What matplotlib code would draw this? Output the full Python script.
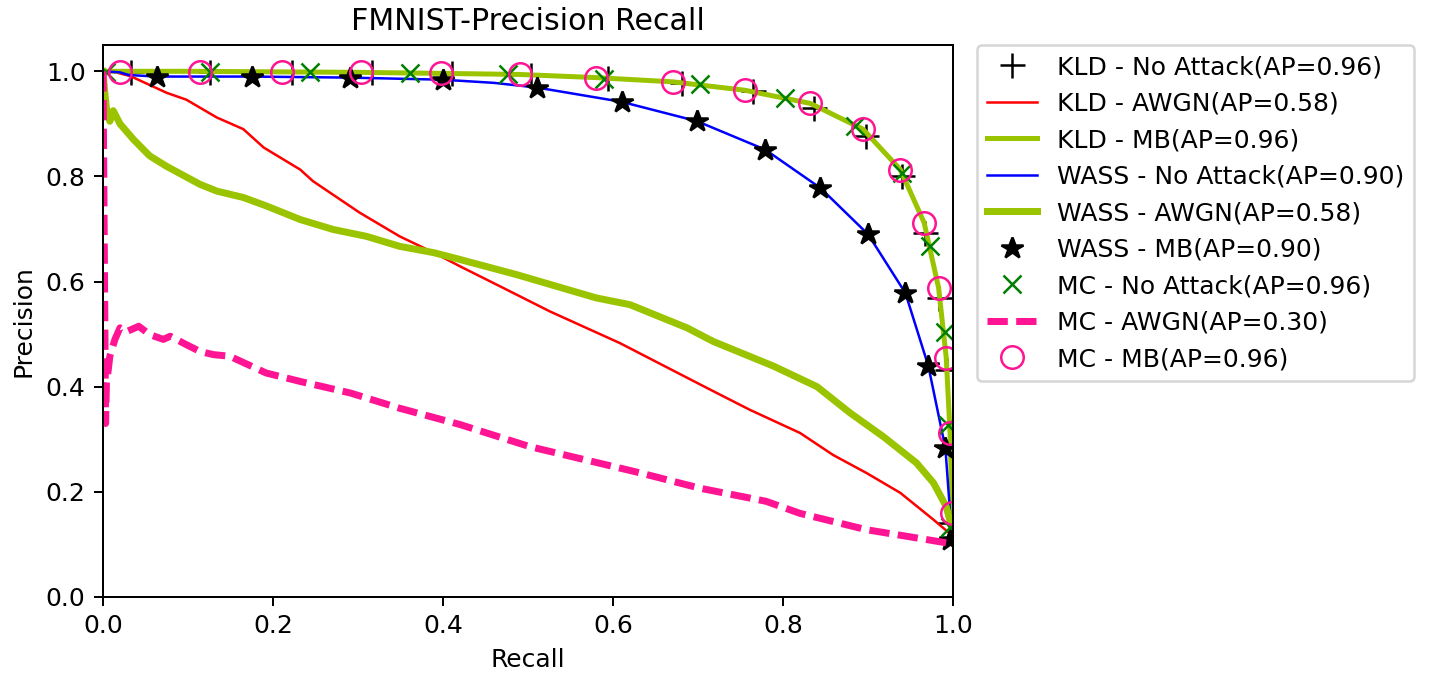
import matplotlib
matplotlib.use("Agg")
import matplotlib.pyplot as plt

# ---------------- data ----------------
title = "FMNIST-Precision Recall"
xlabel = "Recall"
ylabel = "Precision"
xticks = [0.0, 0.2, 0.4, 0.6, 0.8, 1.0]
yticks = [0.0, 0.2, 0.4, 0.6, 0.8, 1.0]

labels = [
    "KLD - No Attack(AP=0.96)",
    "KLD - AWGN(AP=0.58)",
    "KLD - MB(AP=0.96)",
    "WASS - No Attack(AP=0.90)",
    "WASS - AWGN(AP=0.58)",
    "WASS - MB(AP=0.90)",
    "MC - No Attack(AP=0.96)",
    "MC - AWGN(AP=0.30)",
    "MC - MB(AP=0.96)",
]

# KLD - No Attack (markers only)
kld_na_recall = [0.033, 0.126, 0.222, 0.316, 0.41, 0.503, 0.594, 0.681, 0.765,
                 0.836, 0.898, 0.94, 0.967, 0.983, 0.993, 0.9965]
kld_na_precision = [0.999, 0.999, 0.999, 0.998, 0.996, 0.993, 0.987, 0.978, 0.962,
                    0.931, 0.877, 0.80, 0.693, 0.569, 0.432, 0.14]

# KLD - AWGN
kld_awgn_recall = [0.0, 0.01, 0.032, 0.075, 0.098, 0.134, 0.165, 0.189, 0.232, 0.247,
                   0.302, 0.349, 0.389, 0.42, 0.467, 0.526, 0.608, 0.71, 0.761, 0.82,
                   0.859, 0.898, 0.938, 0.977, 0.996, 1.0]
kld_awgn_precision = [1.0, 1.0, 0.991, 0.959, 0.946, 0.912, 0.89, 0.855, 0.813, 0.791,
                      0.731, 0.686, 0.655, 0.629, 0.591, 0.543, 0.483, 0.398, 0.356, 0.312,
                      0.27, 0.236, 0.198, 0.147, 0.121, 0.115]

# KLD - MB
kld_mb_recall = [0.0, 0.05, 0.1, 0.2, 0.3, 0.4, 0.49, 0.58, 0.67, 0.755, 0.832,
                 0.894, 0.938, 0.966, 0.983, 0.992, 0.9965, 0.999, 1.0]
kld_mb_precision = [1.0, 1.0, 1.0, 0.999, 0.998, 0.996, 0.994, 0.988, 0.98, 0.964, 0.939,
                    0.89, 0.813, 0.712, 0.588, 0.455, 0.312, 0.16, 0.11]

# WASS - No Attack
wass_na_recall = [0.0, 0.02, 0.03, 0.063, 0.12, 0.175, 0.29, 0.40, 0.46, 0.511, 0.61,
                  0.699, 0.779, 0.844, 0.90, 0.944, 0.971, 0.991, 0.997, 1.0]
wass_na_precision = [1.0, 0.998, 0.993, 0.99, 0.99, 0.99, 0.988, 0.984, 0.978, 0.969, 0.942,
                     0.905, 0.851, 0.778, 0.69, 0.578, 0.439, 0.283, 0.15, 0.109]

# WASS - AWGN
wass_awgn_recall = [0.0, 0.002, 0.004, 0.008, 0.012, 0.02, 0.036, 0.055, 0.075, 0.114,
                    0.134, 0.165, 0.192, 0.232, 0.271, 0.31, 0.349, 0.389, 0.42, 0.487,
                    0.58, 0.62, 0.687, 0.718, 0.789, 0.84, 0.879, 0.918, 0.957, 0.977,
                    0.992, 1.0]
wass_awgn_precision = [1.0, 0.96, 0.93, 0.905, 0.925, 0.9, 0.87, 0.839, 0.819, 0.785,
                       0.772, 0.76, 0.744, 0.718, 0.699, 0.686, 0.667, 0.655, 0.642, 0.613,
                       0.569, 0.556, 0.512, 0.486, 0.439, 0.40, 0.35, 0.305, 0.255, 0.217,
                       0.172, 0.122]

# WASS - MB (markers only)
wass_mb_recall = [0.063, 0.175, 0.29, 0.40, 0.511, 0.61, 0.699, 0.779, 0.844, 0.90,
                  0.944, 0.971, 0.991, 0.9965]
wass_mb_precision = [0.99, 0.99, 0.988, 0.984, 0.969, 0.942, 0.905, 0.851, 0.778, 0.69,
                     0.578, 0.439, 0.283, 0.109]

# MC - No Attack (markers only)
mc_na_recall = [0.004, 0.126, 0.2435, 0.361, 0.477, 0.589, 0.702, 0.802, 0.885, 0.94,
                0.973, 0.991, 0.994, 0.9965]
mc_na_precision = [0.999, 0.999, 0.999, 0.997, 0.994, 0.986, 0.975, 0.95, 0.896, 0.807,
                   0.667, 0.505, 0.328, 0.134]

# MC - AWGN
mc_awgn_recall = [0.0, 0.003, 0.004, 0.006, 0.008, 0.014, 0.02, 0.028, 0.042, 0.055,
                  0.071, 0.079, 0.098, 0.114, 0.13, 0.149, 0.192, 0.232, 0.291, 0.349,
                  0.42, 0.502, 0.632, 0.702, 0.78, 0.82, 0.898, 0.996, 1.0]
mc_awgn_precision = [1.0, 0.33, 0.407, 0.43, 0.458, 0.49, 0.512, 0.505, 0.515, 0.499,
                     0.49, 0.496, 0.48, 0.467, 0.461, 0.458, 0.426, 0.41, 0.388, 0.359,
                     0.328, 0.286, 0.236, 0.207, 0.182, 0.159, 0.128, 0.102, 0.1]

# MC - MB (markers only)
mc_mb_recall = [0.02, 0.114, 0.21, 0.304, 0.398, 0.49, 0.58, 0.671, 0.755, 0.832,
                0.894, 0.938, 0.966, 0.983, 0.992, 0.9965, 0.999]
mc_mb_precision = [0.998, 0.999, 0.999, 0.998, 0.996, 0.994, 0.988, 0.98, 0.964, 0.939,
                   0.89, 0.813, 0.712, 0.588, 0.455, 0.312, 0.16]

# ---------------- plotting ----------------
plt.rcParams['font.family'] = ['DejaVu Sans']
plt.rcParams['font.size'] = 10

GREEN = '#9bc400'
PINK = '#ff1493'

fig = plt.figure(figsize=(1431 / 180, 675 / 180), dpi=180)
ax = fig.add_axes([0.072, 0.1156, 0.594, 0.8177])

ax.plot(kld_na_recall, kld_na_precision, linestyle='none', marker='+',
        color='black', markersize=10, markeredgewidth=1.0, label=labels[0])
ax.plot(kld_awgn_recall, kld_awgn_precision, color='red', lw=1.0, label=labels[1])
ax.plot(kld_mb_recall, kld_mb_precision, color=GREEN, lw=2.0, label=labels[2])
ax.plot(wass_na_recall, wass_na_precision, color='blue', lw=1.0, label=labels[3])
ax.plot(wass_awgn_recall, wass_awgn_precision, color=GREEN, lw=2.8, label=labels[4])
ax.plot(wass_mb_recall, wass_mb_precision, linestyle='none', marker='*',
        color='black', markersize=9, label=labels[5])
ax.plot(mc_na_recall, mc_na_precision, linestyle='none', marker='x',
        color='green', markersize=7, markeredgewidth=1.0, label=labels[6])
ax.plot(mc_awgn_recall, mc_awgn_precision, color=PINK, lw=2.8,
        dashes=(2.9, 1.2), label=labels[7])
ax.plot(mc_mb_recall, mc_mb_precision, linestyle='none', marker='o',
        markerfacecolor='none', markeredgecolor=PINK, markersize=9,
        markeredgewidth=1.0, label=labels[8])

ax.set_xlim(0, 1)
ax.set_ylim(0, 1.05)
ax.set_xticks(xticks)
ax.set_yticks(yticks)
ax.set_xlabel(xlabel)
ax.set_ylabel(ylabel)
ax.set_title(title)

ax.legend(loc='upper left', bbox_to_anchor=(1.028, 1.0), borderaxespad=0)

fig.savefig('out.png', dpi=180, facecolor='white')
